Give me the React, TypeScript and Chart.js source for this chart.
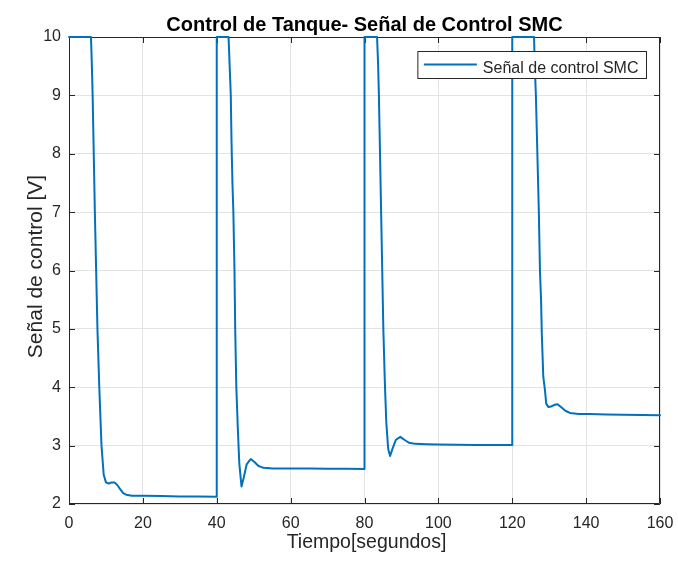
import React, { useEffect, useRef } from "react";
import { Chart, registerables } from "chart.js";

Chart.register(...registerables);

const TITLE = "Control de Tanque- Señal de Control SMC";
const X_LABEL = "Tiempo[segundos]";
const Y_LABEL = "Señal de control [V]";
const SERIES_LABEL = "Señal de control SMC";

const xTicks = [0, 20, 40, 60, 80, 100, 120, 140, 160];
const yTicks = [2, 3, 4, 5, 6, 7, 8, 9, 10];

const time = [
  0, 5.95, 6.2, 6.4, 6.7, 7.0, 7.35, 7.7, 8.2, 8.8, 9.4, 10.0, 10.8, 11.5, 12.3, 13.0, 13.8, 14.6, 15.5, 17, 20, 30, 40,
  40, 43.2, 43.5, 43.8, 44.0, 44.25, 44.5, 44.8, 45.0, 45.3, 45.7, 46.1, 46.7, 47.3, 48.1, 49.2, 50.2, 51.3, 52.6, 55, 60, 70, 80,
  80, 83.4, 83.7, 83.9, 84.2, 84.5, 84.8, 85.1, 85.5, 85.9, 86.4, 86.9, 87.6, 88.5, 89.7, 90.8, 92, 93.7, 100, 110, 120,
  120, 125.9, 126.1, 126.4, 126.8, 127.2, 127.5, 127.8, 128.0, 128.4, 128.8, 129.2, 129.8, 130.5, 131.5, 132.3, 133.2, 134.3, 135.6, 138, 141, 150, 160,
];

const signal = [
  10, 10, 9.5, 9, 8, 7, 6, 5, 4, 3, 2.5, 2.37, 2.35, 2.37, 2.37, 2.33, 2.26, 2.19, 2.16, 2.14, 2.14, 2.13, 2.125,
  10, 10, 9.5, 9, 8.2, 7.5, 7, 6, 5, 4, 3.3, 2.7, 2.3, 2.45, 2.68, 2.77, 2.72, 2.65, 2.62, 2.61, 2.61, 2.605, 2.6,
  10, 10, 9.5, 9, 8, 7, 6, 5, 4.1, 3.4, 2.95, 2.82, 2.95, 3.1, 3.15, 3.1, 3.05, 3.03, 3.02, 3.01, 3.01,
  10, 10, 9.5, 9, 8, 7, 6, 5.5, 4.92, 4.18, 3.98, 3.72, 3.66, 3.67, 3.7, 3.71, 3.66, 3.6, 3.56, 3.54, 3.54, 3.53, 3.52,
];

const FONT = "'Liberation Sans', Arial, Helvetica, sans-serif";
const LINE_COLOR = "#0072BD";
const AXIS_COLOR = "#262626";

const framePlugin = {
  id: "frame",
  beforeDatasetsDraw(chart: any) {
    const { ctx, chartArea } = chart;
    const { left, right, top, bottom } = chartArea;
    const xs = chart.scales.x;
    const ys = chart.scales.y;
    ctx.save();
    ctx.strokeStyle = AXIS_COLOR;
    ctx.lineWidth = 1;
    ctx.beginPath();
    ctx.rect(left + 0.5, top + 0.5, right - left - 1, bottom - top - 1);
    const tl = 6;
    xTicks.forEach((v) => {
      const px = Math.round(xs.getPixelForValue(v)) + 0.5;
      ctx.moveTo(px, bottom);
      ctx.lineTo(px, bottom - tl);
      ctx.moveTo(px, top);
      ctx.lineTo(px, top + tl);
    });
    yTicks.forEach((v) => {
      const py = Math.round(ys.getPixelForValue(v)) + 0.5;
      ctx.moveTo(left, py);
      ctx.lineTo(left + tl, py);
      ctx.moveTo(right, py);
      ctx.lineTo(right - tl, py);
    });
    ctx.stroke();
    ctx.restore();
  },
  afterDraw(chart: any) {
    const { ctx, chartArea } = chart;
    const { left, right, top, bottom } = chartArea;
    ctx.save();
    // legend
    ctx.font = `16px ${FONT}`;
    const tw = ctx.measureText(SERIES_LABEL).width;
    const boxR = right - 13.5;
    const boxW = 6 + 53 + 6 + tw + 8;
    const boxL = boxR - boxW;
    const boxT = top + 14.5;
    const boxH = 27;
    ctx.fillStyle = "#ffffff";
    ctx.fillRect(boxL, boxT, boxW, boxH);
    ctx.strokeStyle = AXIS_COLOR;
    ctx.lineWidth = 1;
    ctx.strokeRect(boxL, boxT, boxW, boxH);
    ctx.strokeStyle = LINE_COLOR;
    ctx.lineWidth = 2;
    ctx.beginPath();
    ctx.moveTo(boxL + 6, boxT + 13);
    ctx.lineTo(boxL + 59, boxT + 13);
    ctx.stroke();
    ctx.fillStyle = AXIS_COLOR;
    ctx.textAlign = "left";
    ctx.textBaseline = "alphabetic";
    ctx.fillText(SERIES_LABEL, boxL + 65, boxT + 21);

    // title
    ctx.fillStyle = "#000000";
    ctx.font = `bold 20px ${FONT}`;
    ctx.textAlign = "center";
    ctx.fillText(TITLE, (left + right) / 2, 31);

    // x label
    ctx.fillStyle = AXIS_COLOR;
    ctx.font = `19.5px ${FONT}`;
    ctx.fillText(X_LABEL, (left + right) / 2 + 2, 548);

    // y label
    ctx.font = `21px ${FONT}`;
    ctx.translate(42, (top + bottom) / 2 - 4);
    ctx.rotate(-Math.PI / 2);
    ctx.fillText(Y_LABEL, 0, 0);
    ctx.restore();
  },
};

export default function App() {
  const ref = useRef<HTMLCanvasElement | null>(null);
  useEffect(() => {
    document.body.style.margin = "0";
    const canvas = ref.current;
    if (!canvas) return;
    const points = time.map((t, i) => ({ x: t, y: signal[i] }));
    const chart = new Chart(canvas, {
      type: "line",
      data: {
        datasets: [
          {
            label: SERIES_LABEL,
            data: points,
            borderColor: LINE_COLOR,
            backgroundColor: LINE_COLOR,
            borderWidth: 2,
            borderJoinStyle: "round",
            borderCapStyle: "round",
            pointRadius: 0,
            tension: 0.0001,
            fill: false,
            clip: false as any,
          },
        ],
      },
      options: {
        responsive: false,
        animation: false,
        devicePixelRatio: 1,
        layout: { padding: { top: 37, right: 18, left: 0, bottom: 0 } },
        plugins: {
          legend: { display: false },
          title: { display: false },
          tooltip: { enabled: false },
        },
        scales: {
          x: {
            type: "linear",
            min: 0,
            max: 160,
            afterBuildTicks: (s: any) => {
              s.ticks = xTicks.map((v) => ({ value: v }));
            },
            afterFit: (s: any) => {
              s.height = 57;
              s.paddingLeft = 0;
              s.paddingRight = 0;
            },
            ticks: {
              font: { family: FONT, size: 16 },
              color: AXIS_COLOR,
              padding: 10,
              maxRotation: 0,
              autoSkip: false,
            },
            grid: { color: "#e3e3e3", drawTicks: false, lineWidth: 1 },
            border: { display: false },
          },
          y: {
            type: "linear",
            min: 2,
            max: 10,
            afterBuildTicks: (s: any) => {
              s.ticks = yTicks.map((v) => ({ value: v }));
            },
            afterFit: (s: any) => {
              s.width = 69;
              s.paddingTop = 0;
              s.paddingBottom = 0;
            },
            ticks: {
              font: { family: FONT, size: 16 },
              color: AXIS_COLOR,
              padding: 8,
              autoSkip: false,
            },
            grid: { color: "#e3e3e3", drawTicks: false, lineWidth: 1 },
            border: { display: false },
          },
        },
      },
      plugins: [framePlugin],
    });
    return () => chart.destroy();
  }, []);
  return (
    <div style={{ width: 678, height: 561, background: "#ffffff" }}>
      <canvas ref={ref} width={678} height={561} style={{ display: "block" }} />
    </div>
  );
}
